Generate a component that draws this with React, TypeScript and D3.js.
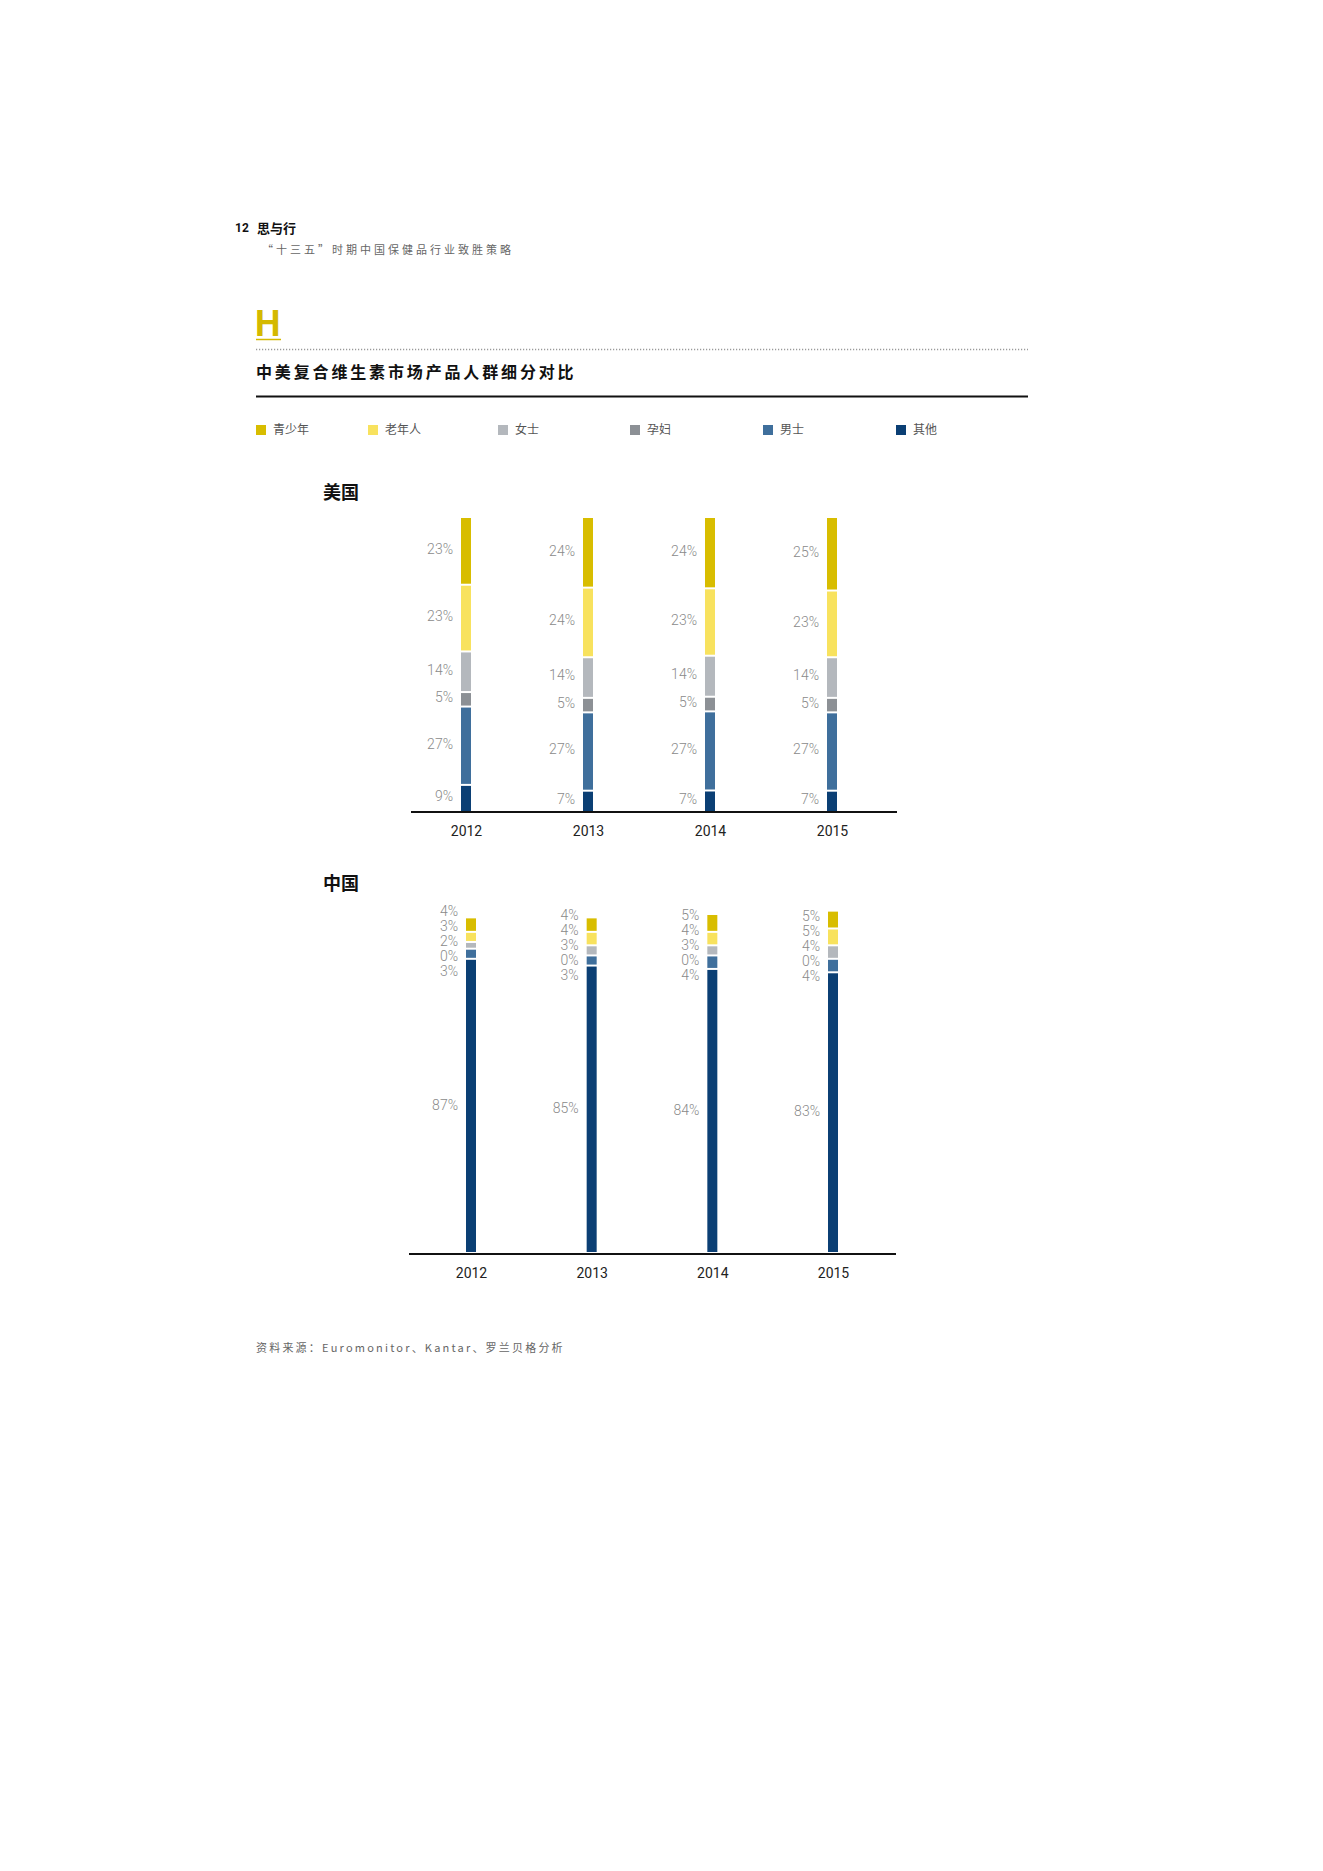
import React, { useRef, useEffect } from 'react';
import * as d3 from 'd3';

// categories and series (stack order: top → bottom)
const years = ['2012', '2013', '2014', '2015'];
const groups = ['青少年', '老年人', '女士', '孕妇', '男士', '其他'];
const groupColors = ['#d8bd00', '#f8e25e', '#b4b8bd', '#8c9095', '#3f6f9c', '#0b3f74'];

// 美国 (%)
const usTeen = [23, 24, 24, 25];
const usSenior = [23, 24, 23, 23];
const usWomen = [14, 14, 14, 14];
const usPregnant = [5, 5, 5, 5];
const usMen = [27, 27, 27, 27];
const usOther = [9, 7, 7, 7];

// 中国 (%)
const cnTeen = [4, 4, 5, 5];
const cnSenior = [3, 4, 4, 5];
const cnWomen = [2, 3, 3, 4];
const cnPregnant = [0, 0, 0, 0];
const cnMen = [3, 3, 4, 4];
const cnOther = [87, 85, 84, 83];

const FONT = 'Roboto, "Noto Sans CJK SC", sans-serif';
const CJK = '"Noto Sans CJK SC", Roboto, sans-serif';

const toRows = (series: number[][]) =>
    years.map((year, i) => {
        const row: any = { year };
        groups.forEach((g, gi) => { row[g] = series[gi][i]; });
        return row;
    });

// push crowded labels apart: clusters are centred on the mean of their wanted positions
const spreadLabels = (items: { y: number }[], gap: number) => {
    const sorted = [...items].sort((a, b) => a.y - b.y);
    let clusters = sorted.map(it => ({ members: [it], want: [it.y] }));
    const place = (c: any) => {
        const mean = d3.mean(c.want) as number;
        const start = mean - ((c.members.length - 1) * gap) / 2;
        c.members.forEach((m: any, i: number) => { m.pos = start + i * gap; });
    };
    clusters.forEach(place);
    let merged = true;
    while (merged) {
        merged = false;
        for (let i = 0; i < clusters.length - 1; i++) {
            const a = clusters[i], b = clusters[i + 1];
            const aEnd = (a.members[a.members.length - 1] as any).pos;
            const bStart = (b.members[0] as any).pos;
            if (bStart - aEnd < gap) {
                const c = { members: [...a.members, ...b.members], want: [...a.want, ...b.want] };
                place(c);
                clusters.splice(i, 2, c);
                merged = true;
                break;
            }
        }
    }
};

const drawPanel = (svg: any, rows: any[], opt: any) => {
    const keys = [...groups].reverse(); // 其他 at the bottom
    const stack = d3.stack().keys(keys);
    if (opt.expand) stack.offset(d3.stackOffsetExpand);
    const series = stack(rows);

    const x = d3.scalePoint().domain(years).range(opt.xRange);
    const y = d3.scaleLinear().domain(opt.yDomain).range([opt.base, opt.top]);
    const barW = 10;
    const gap = 2;

    const g = svg.append('g');

    series.forEach((s: any) => {
        const color = groupColors[groups.indexOf(s.key)];
        s.forEach((d: any) => {
            const v = d.data[s.key];
            if (!v) return;
            const isTop = s.key === groups[0];
            const yTop = y(d[1]) + (isTop ? 0 : gap / 2);
            const yBot = y(d[0]) - (d[0] === 0 ? 0 : gap / 2);
            g.append('rect')
                .attr('x', (x(d.data.year) as number) - barW / 2)
                .attr('y', yTop)
                .attr('width', barW)
                .attr('height', Math.max(0, yBot - yTop))
                .attr('fill', color);
        });
    });

    // value labels, left of each bar
    years.forEach((year, i) => {
        const items = series.map((s: any) => {
            const d = s[i];
            return { y: (y(d[0]) + y(d[1])) / 2, text: `${rows[i][s.key]}%` } as any;
        });
        spreadLabels(items, opt.labelGap);
        items.forEach((it: any) => {
            g.append('text')
                .attr('x', (x(year) as number) - 13)
                .attr('y', it.pos)
                .attr('dy', opt.labelDy)
                .attr('text-anchor', 'end')
                .attr('font-family', FONT)
                .attr('font-weight', 300)
                .attr('font-size', 14)
                .attr('fill', '#8a8a8a')
                .text(it.text);
        });
    });

    // baseline
    g.append('line')
        .attr('x1', opt.axisX[0]).attr('x2', opt.axisX[1])
        .attr('y1', opt.axisY).attr('y2', opt.axisY)
        .attr('stroke', '#111').attr('stroke-width', 2);

    // year ticks
    g.append('g')
        .attr('transform', `translate(0,${opt.axisY})`)
        .call(d3.axisBottom(x).tickSize(0).tickPadding(14))
        .call((s: any) => s.select('.domain').remove())
        .call((s: any) => s.selectAll('.tick text')
            .attr('font-family', FONT).attr('font-weight', 400)
            .attr('font-size', 14).attr('fill', '#222'));
};

const App = () => {
    const svgRef = useRef<SVGSVGElement>(null);

    useEffect(() => {
        if (!svgRef.current) return;
        const svg = d3.select(svgRef.current);
        svg.selectAll('*').remove();

        // page header
        svg.append('text').attr('x', 235).attr('y', 232)
            .attr('font-family', FONT).attr('font-weight', 700).attr('font-size', 12)
            .attr('fill', '#111').text('12');
        svg.append('text').attr('x', 257).attr('y', 233)
            .attr('font-family', CJK).attr('font-weight', 700).attr('font-size', 13)
            .attr('fill', '#111').text('思与行');
        svg.append('text').attr('x', 262).attr('y', 254)
            .attr('font-family', CJK).attr('font-size', 11).attr('letter-spacing', 3)
            .attr('fill', '#666').text('“十三五”时期中国保健品行业致胜策略');

        // section mark
        svg.append('text').attr('x', 255).attr('y', 336)
            .attr('font-family', FONT).attr('font-weight', 700).attr('font-size', 36)
            .attr('fill', '#d4b900').text('H');
        svg.append('line').attr('x1', 256).attr('x2', 281).attr('y1', 339.5).attr('y2', 339.5)
            .attr('stroke', '#d4b900').attr('stroke-width', 1.5);
        svg.append('line').attr('x1', 256).attr('x2', 1028).attr('y1', 349.5).attr('y2', 349.5)
            .attr('stroke', '#9a9a9a').attr('stroke-width', 1.3).attr('stroke-dasharray', '1.2 1.8');

        svg.append('text').attr('x', 256).attr('y', 378)
            .attr('font-family', CJK).attr('font-weight', 700).attr('font-size', 16)
            .attr('letter-spacing', 2.85).attr('fill', '#111')
            .text('中美复合维生素市场产品人群细分对比');
        svg.append('line').attr('x1', 256).attr('x2', 1028).attr('y1', 396.5).attr('y2', 396.5)
            .attr('stroke', '#111').attr('stroke-width', 2);

        // legend
        const legendX = [256, 368, 498, 630, 763, 896];
        groups.forEach((name, i) => {
            svg.append('rect').attr('x', legendX[i]).attr('y', 425).attr('width', 10).attr('height', 10)
                .attr('fill', groupColors[i]);
            svg.append('text').attr('x', legendX[i] + 17).attr('y', 430).attr('dy', '0.36em')
                .attr('font-family', CJK).attr('font-size', 12).attr('fill', '#555').text(name);
        });

        // panels
        svg.append('text').attr('x', 323).attr('y', 499)
            .attr('font-family', CJK).attr('font-weight', 700).attr('font-size', 18)
            .attr('fill', '#111').text('美国');
        drawPanel(svg, toRows([usTeen, usSenior, usWomen, usPregnant, usMen, usOther]), {
            expand: true, yDomain: [0, 1], base: 811, top: 518,
            xRange: [466, 832], axisX: [411, 897], axisY: 812, labelGap: 12, labelDy: '0.2em',
        });

        svg.append('text').attr('x', 323).attr('y', 890)
            .attr('font-family', CJK).attr('font-weight', 700).attr('font-size', 18)
            .attr('fill', '#111').text('中国');
        drawPanel(svg, toRows([cnTeen, cnSenior, cnWomen, cnPregnant, cnMen, cnOther]), {
            expand: false, yDomain: [0, 100], base: 1252, top: 915,
            xRange: [471, 833], axisX: [409, 896], axisY: 1254, labelGap: 15, labelDy: '0.3em',
        });

        // source
        svg.append('text').attr('x', 256).attr('y', 1352)
            .attr('font-family', CJK).attr('font-size', 11).attr('letter-spacing', 2.2)
            .attr('fill', '#666').text('资料来源：Euromonitor、Kantar、罗兰贝格分析');
    }, []);

    return (
        <svg
            ref={svgRef}
            width={1323}
            height={1871}
            style={{ position: 'absolute', left: 0, top: 0, background: '#fff' }}
        />
    );
};

export default App;
